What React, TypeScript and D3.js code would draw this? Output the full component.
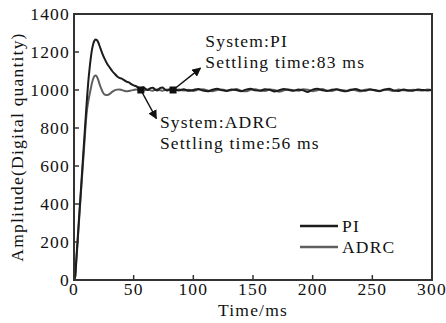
import React from "react";
import * as d3 from "d3";

const earlyTimes = [0,1,2,3,4,5,6,7,8,9,10,11,12,13,14,15,16,17,18,19,20,22,24,26,28,30,32,34,36,38,40,42,44,46,48,50,52,54,56,58,60,62,64,66,68,70,72,74,76,78,80];
const piEarly = [0,20,115,210,305,400,495,590,685,780,875,965,1045,1110,1165,1210,1240,1258,1266,1264,1255,1222,1188,1160,1136,1118,1100,1086,1073,1064,1060,1052,1044,1040,1031,1024,1020,1012,1010,1014,1006,1000,1010,1012,1002,998,1010,1013,1004,997,1004];
const adrcEarly = [0,15,105,195,290,385,475,565,655,745,835,900,940,975,1005,1035,1058,1072,1076,1072,1058,1020,990,975,974,980,990,998,1002,1003,1000,996,993,995,998,1000,1002,1000,998,997,1000,1003,998,996,1001,1004,999,996,1000,1002,999];
const lateTimes = d3.range(84, 301, 4);
const piLate = [1002,998,1004,996,1000,1005,997,993,1001,1006,999,995,1003,1000,994,1002,1007,998,996,1004,1001,992,999,1005,1000,996,1003,998,990,1002,1006,999,995,1001,1004,997,993,1000,1005,998,996,1003,1000,994,1001,1006,998,995,1002,999,996,1003,1000,998,1000];
const adrcLate = [999,1003,997,1001,995,1002,1004,998,994,1000,1003,997,999,1005,996,993,1001,1004,998,995,1002,1000,991,998,1003,999,996,1004,1001,994,999,1005,997,995,1002,1000,996,1003,999,993,1001,1004,997,996,1002,1000,995,1003,998,996,1001,999,997,1002,1000];

const xTicks = [0,50,100,150,200,250,300];
const yTicks = [0,200,400,600,800,1000,1200,1400];

const markers = [
  { t: 83, v: 1000, tipT: 106, tipV: 1115, lines: ["System:PI", "Settling time:83 ms"], textT: 110, textV: 1225 },
  { t: 56, v: 1000, tipT: 69, tipV: 850, lines: ["System:ADRC", "Settling time:56 ms"], textT: 72, textV: 800 },
];

const legendItems = [
  { name: "PI", color: "#1c1c1c" },
  { name: "ADRC", color: "#5f5f5f" },
];

export default function App() {
  const W = 446, H = 323;
  const left = 74, right = 432, top = 14, bottom = 280;
  const x = d3.scaleLinear().domain([0, 300]).range([left, right]);
  const y = d3.scaleLinear().domain([0, 1400]).range([bottom, top]);
  const line = d3.line<[number, number]>().x(d => x(d[0])).y(d => y(d[1])).curve(d3.curveMonotoneX);
  const piData: [number, number][] = [...earlyTimes.map((t, i) => [t, piEarly[i]] as [number, number]), ...lateTimes.map((t, i) => [t, piLate[i]] as [number, number])];
  const adrcData: [number, number][] = [...earlyTimes.map((t, i) => [t, adrcEarly[i]] as [number, number]), ...lateTimes.map((t, i) => [t, adrcLate[i]] as [number, number])];
  const font = "'Liberation Serif', 'Times New Roman', serif";
  const fs = 17.5;
  const ls = 1.2;
  const axisColor = "#333";
  return (
    <svg width={W} height={H} style={{ position: "absolute", left: 0, top: 0, background: "#fff" }} fontFamily={font}>
      <defs>
        <marker id="arr" viewBox="0 0 10 10" refX="9" refY="5" markerWidth="9" markerHeight="9" orient="auto" markerUnits="userSpaceOnUse">
          <path d="M0,0 L10,5 L0,10 z" fill="#111" />
        </marker>
      </defs>
      <path d={line(adrcData) || ""} fill="none" stroke="#5f5f5f" strokeWidth={2} />
      <path d={line(piData) || ""} fill="none" stroke="#1c1c1c" strokeWidth={2} />
      <rect x={left} y={top} width={right - left} height={bottom - top} fill="none" stroke={axisColor} strokeWidth={2} />
      {xTicks.map(t => (
        <g key={"x" + t}>
          <line x1={x(t)} x2={x(t)} y1={bottom} y2={bottom - 5} stroke={axisColor} strokeWidth={1.5} />
          <text x={x(t)} y={bottom + 15} textAnchor="middle" fontSize={fs} letterSpacing={ls} fill="#111">{t}</text>
        </g>
      ))}
      {yTicks.map(t => (
        <g key={"y" + t}>
          <line x1={left} x2={left + 5} y1={y(t)} y2={y(t)} stroke={axisColor} strokeWidth={1.5} />
          <text x={left - 4} y={y(t) + 6} textAnchor="end" fontSize={fs} letterSpacing={ls} fill="#111">{t}</text>
        </g>
      ))}
      <text x={(left + right) / 2} y={316} textAnchor="middle" fontSize={fs} letterSpacing={ls} fill="#111">Time/ms</text>
      <text transform={`translate(23,${(top + bottom) / 2}) rotate(-90)`} textAnchor="middle" fontSize={fs} letterSpacing={ls} fill="#111">Amplitude(Digital quantity)</text>
      {markers.map((m, i) => (
        <g key={"m" + i}>
          <line x1={x(m.t)} y1={y(m.v)} x2={x(m.tipT)} y2={y(m.tipV)} stroke="#111" strokeWidth={1.5} markerEnd="url(#arr)" />
          <rect x={x(m.t) - 3.5} y={y(m.v) - 3.5} width={7} height={7} fill="#111" />
          {m.lines.map((s, j) => (
            <text key={j} x={x(m.textT)} y={y(m.textV) + j * 21} fontSize={fs} letterSpacing={ls} fill="#111">{s}</text>
          ))}
        </g>
      ))}
      {legendItems.map((l, i) => (
        <g key={"l" + i}>
          <line x1={300} x2={338} y1={226 + i * 21} y2={226 + i * 21} stroke={l.color} strokeWidth={2.5} />
          <text x={342} y={232 + i * 21} fontSize={fs} letterSpacing={ls} fill="#111">{l.name}</text>
        </g>
      ))}
    </svg>
  );
}
